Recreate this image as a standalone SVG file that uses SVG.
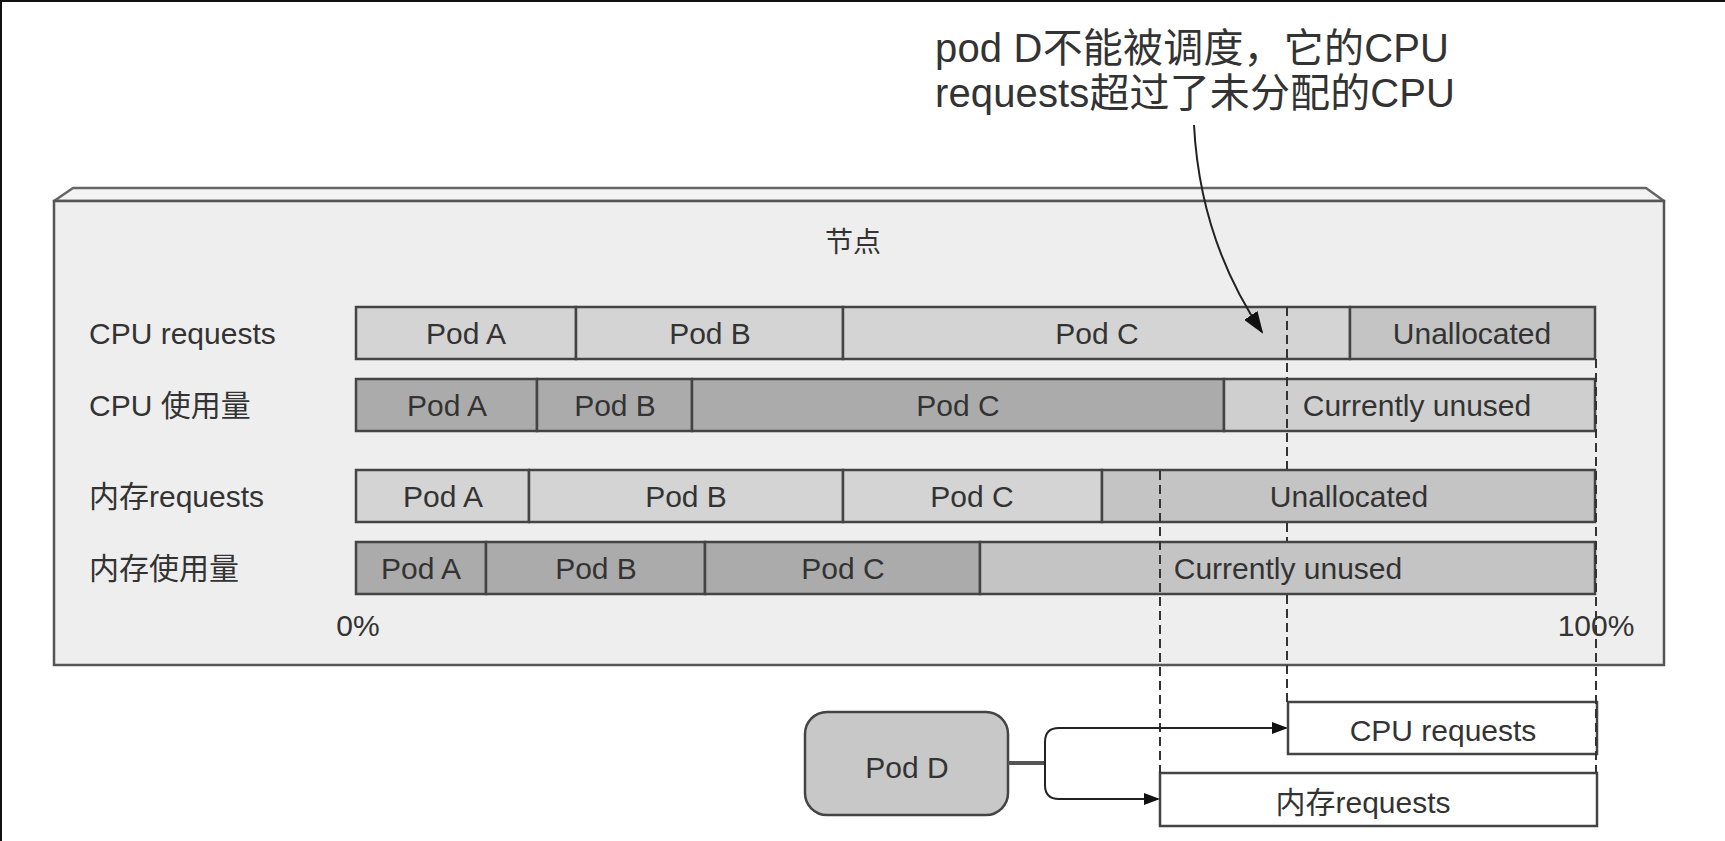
<svg xmlns="http://www.w3.org/2000/svg" width="1725" height="841" viewBox="0 0 1725 841">
<style>
text{font-family:"Liberation Sans","Noto Sans CJK SC",sans-serif;fill:#333;}
.lbl{font-size:30px;}
.mid{text-anchor:middle;}
.seg{stroke:#444;stroke-width:2.5;}
.light{fill:#d4d4d4;}
.dark{fill:#ababab;}
.free{fill:#c4c4c4;}
.unused{fill:#cfcfcf;}
.dash{stroke:#333;stroke-width:2;stroke-dasharray:9 5;fill:none;}
.conn{stroke:#222;stroke-width:2;fill:none;}
</style>
<defs>
<marker id="ah" markerWidth="16" markerHeight="12" refX="14" refY="6" orient="auto" markerUnits="userSpaceOnUse">
<path d="M0,0 L16,6 L0,12 Z" fill="#111"/>
</marker>
<marker id="ahbig" markerWidth="22" markerHeight="16" refX="20" refY="8" orient="auto" markerUnits="userSpaceOnUse">
<path d="M0,0 L22,8 L0,16 Z" fill="#111"/>
</marker>
</defs>
<rect x="0" y="0" width="1725" height="841" fill="#ffffff"/>
<line x1="0" y1="1" x2="1725" y2="1" stroke="#111" stroke-width="2"/>
<line x1="1" y1="0" x2="1" y2="841" stroke="#111" stroke-width="2"/>

<g id="node-box">
<polygon points="54,201 73,188 1646,188 1664,201" fill="#f3f3f3" stroke="#666" stroke-width="2.5" stroke-linejoin="round"/>
<rect x="54" y="201" width="1610" height="464" fill="#eeeeee" stroke="#555" stroke-width="2.5"/>
<text x="853" y="252" class="mid" style="font-size:28px">节点</text>
<text x="89" y="344" class="lbl">CPU requests</text>
<text x="89" y="416" class="lbl">CPU 使用量</text>
<text x="89" y="507" class="lbl">内存requests</text>
<text x="89" y="579" class="lbl">内存使用量</text>
<text x="358" y="636" class="lbl mid">0%</text>
<text x="1596" y="636" class="lbl mid">100%</text>
</g>

<g id="row-cpu-requests">
<rect x="356" y="307" width="220" height="52" class="seg light"/>
<rect x="576" y="307" width="267" height="52" class="seg light"/>
<rect x="843" y="307" width="507" height="52" class="seg light"/>
<rect x="1350" y="307" width="245" height="52" class="seg free"/>
<text x="466" y="344" class="lbl mid">Pod A</text>
<text x="710" y="344" class="lbl mid">Pod B</text>
<text x="1097" y="344" class="lbl mid">Pod C</text>
<text x="1472" y="344" class="lbl mid">Unallocated</text>
</g>

<g id="row-cpu-usage">
<rect x="356" y="379" width="181" height="52" class="seg dark"/>
<rect x="537" y="379" width="155" height="52" class="seg dark"/>
<rect x="692" y="379" width="532" height="52" class="seg dark"/>
<rect x="1224" y="379" width="371" height="52" class="seg unused"/>
<text x="447" y="416" class="lbl mid">Pod A</text>
<text x="615" y="416" class="lbl mid">Pod B</text>
<text x="958" y="416" class="lbl mid">Pod C</text>
<text x="1417" y="416" class="lbl mid">Currently unused</text>
</g>

<g id="row-mem-requests">
<rect x="356" y="470" width="173" height="52" class="seg light"/>
<rect x="529" y="470" width="314" height="52" class="seg light"/>
<rect x="843" y="470" width="259" height="52" class="seg light"/>
<rect x="1102" y="470" width="493" height="52" class="seg free"/>
<text x="443" y="507" class="lbl mid">Pod A</text>
<text x="686" y="507" class="lbl mid">Pod B</text>
<text x="972" y="507" class="lbl mid">Pod C</text>
<text x="1349" y="507" class="lbl mid">Unallocated</text>
</g>

<g id="row-mem-usage">
<rect x="356" y="542" width="130" height="52" class="seg dark"/>
<rect x="486" y="542" width="219" height="52" class="seg dark"/>
<rect x="705" y="542" width="275" height="52" class="seg dark"/>
<rect x="980" y="542" width="615" height="52" class="seg free"/>
<text x="421" y="579" class="lbl mid">Pod A</text>
<text x="596" y="579" class="lbl mid">Pod B</text>
<text x="843" y="579" class="lbl mid">Pod C</text>
<text x="1288" y="579" class="lbl mid">Currently unused</text>
</g>

<g id="callout">
<text x="935" y="62" style="font-size:40px" textLength="514" lengthAdjust="spacing">pod D不能被调度，它的CPU</text>
<text x="935" y="107" style="font-size:40px" textLength="520" lengthAdjust="spacing">requests超过了未分配的CPU</text>
</g>

<g id="pod-d">
<rect x="805" y="712" width="203" height="103" rx="22" ry="22" fill="#c8c8c8" stroke="#444" stroke-width="2.5"/>
<text x="907" y="778" class="lbl mid">Pod D</text>
</g>

<g id="cpu-requests-box">
<rect x="1288" y="702" width="309" height="52" fill="#ffffff" stroke="#444" stroke-width="2.5"/>
<text x="1443" y="741" class="lbl mid">CPU requests</text>
</g>

<g id="mem-requests-box">
<rect x="1160" y="773" width="437" height="53" fill="#ffffff" stroke="#444" stroke-width="2.5"/>
<text x="1363" y="813" class="lbl mid">内存requests</text>
</g>

<g id="connectors">
<line x1="1287" y1="307" x2="1287" y2="469" class="dash"/>
<line x1="1287" y1="523" x2="1287" y2="541" class="dash"/>
<line x1="1287" y1="595" x2="1287" y2="702" class="dash"/>
<line x1="1160" y1="471" x2="1160" y2="773" class="dash"/>
<line x1="1596" y1="359" x2="1596" y2="773" class="dash"/>
<path d="M1194,125 Q1200,240 1262,332" class="conn" marker-end="url(#ahbig)"/>
<path d="M1008,763 H1045" stroke="#555" stroke-width="4" fill="none"/>
<path d="M1045,763 V742 Q1045,728 1059,728 H1286" class="conn" marker-end="url(#ah)"/>
<path d="M1045,763 V785 Q1045,799 1059,799 H1158" class="conn" marker-end="url(#ah)"/>
</g>
</svg>
